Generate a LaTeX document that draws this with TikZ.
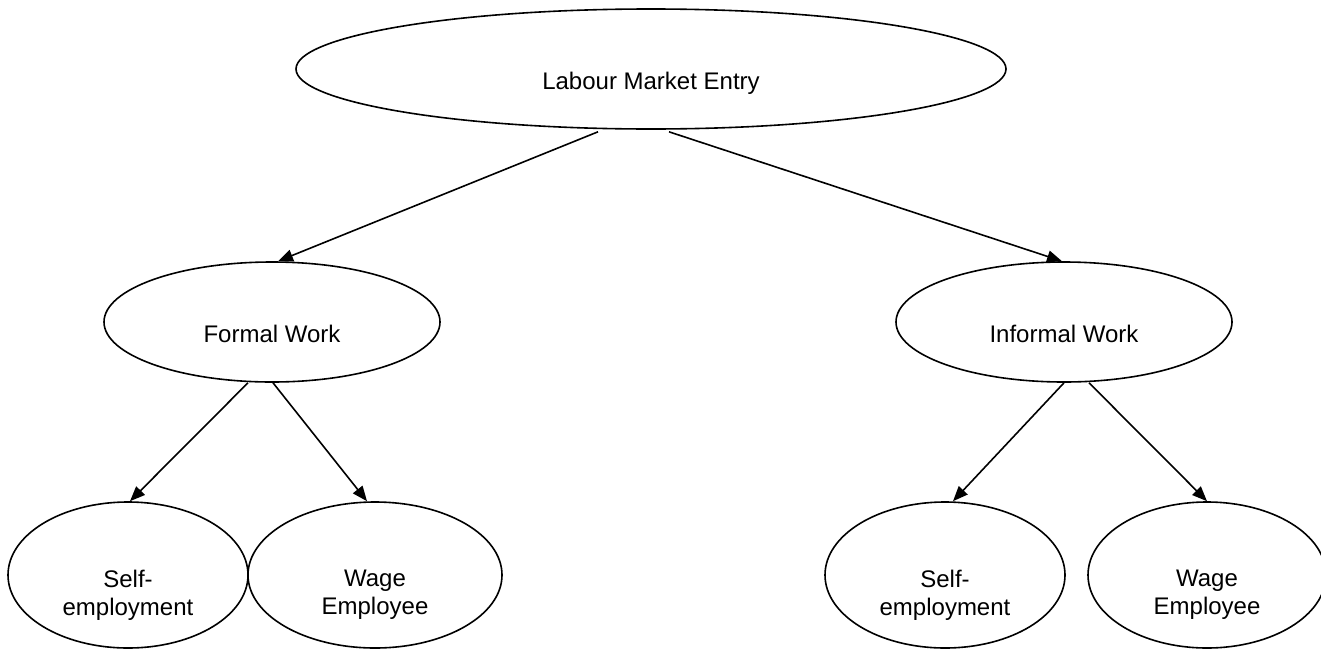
\documentclass[tikz,border=0pt]{standalone}
\usepackage{fontspec}
\setmainfont{Liberation Sans}
\usetikzlibrary{arrows.meta,shapes.geometric}
\begin{document}
\begin{tikzpicture}[x=1pt,y=-1pt,
  oval/.style={ellipse,draw,line width=1.6pt,inner sep=0pt},
  txt/.style={font=\fontsize{24}{28}\selectfont,inner sep=0pt,align=center},
  arr/.style={line width=1.6pt,-{Triangle[length=15pt,width=12pt]}}]
\useasboundingbox (0,0) rectangle (1321,648);
% ellipses
\node[oval,minimum width=710pt,minimum height=120pt] (top) at (651,69) {};
\node[oval,minimum width=336pt,minimum height=120pt] (formal) at (272,322) {};
\node[oval,minimum width=336pt,minimum height=120pt] (informal) at (1064,322) {};
\node[oval,minimum width=240pt,minimum height=146pt] (lself) at (128,575) {};
\node[oval,minimum width=254pt,minimum height=146pt] (lwage) at (375,575) {};
\node[oval,minimum width=240pt,minimum height=146pt] (rself) at (945,575) {};
\node[oval,minimum width=238pt,minimum height=146pt] (rwage) at (1207,575) {};
% texts
\node[txt,anchor=base] (ttop) at (651,89) {Labour Market Entry};
\node[txt,anchor=base] (tformal) at (272,342) {Formal Work};
\node[txt,anchor=base] (tinformal) at (1064,342) {Informal Work};
\node[txt] (tlself) at (128,595) {Self-\\employment};
\node[txt] (tlwage) at (375,595) {Wage\\Employee};
\node[txt] (trself) at (945,595) {Self-\\employment};
\node[txt] (trwage) at (1207,595) {Wage\\Employee};
% arrows
\draw[arr] ([xshift=-53pt,yshift=-2pt]top.south) -- ([xshift=6pt]formal.north);
\draw[arr] ([xshift=18pt,yshift=-2pt]top.south) -- ([xshift=-2pt]informal.north);
\draw[arr] ([xshift=-24pt]formal.south) -- ([xshift=2pt]lself.north);
\draw[arr] ([xshift=1pt]formal.south) -- ([xshift=-8pt]lwage.north);
\draw[arr] (informal.south) -- ([xshift=8pt]rself.north);
\draw[arr] ([xshift=25pt]informal.south) -- (rwage.north);
\end{tikzpicture}
\end{document}
